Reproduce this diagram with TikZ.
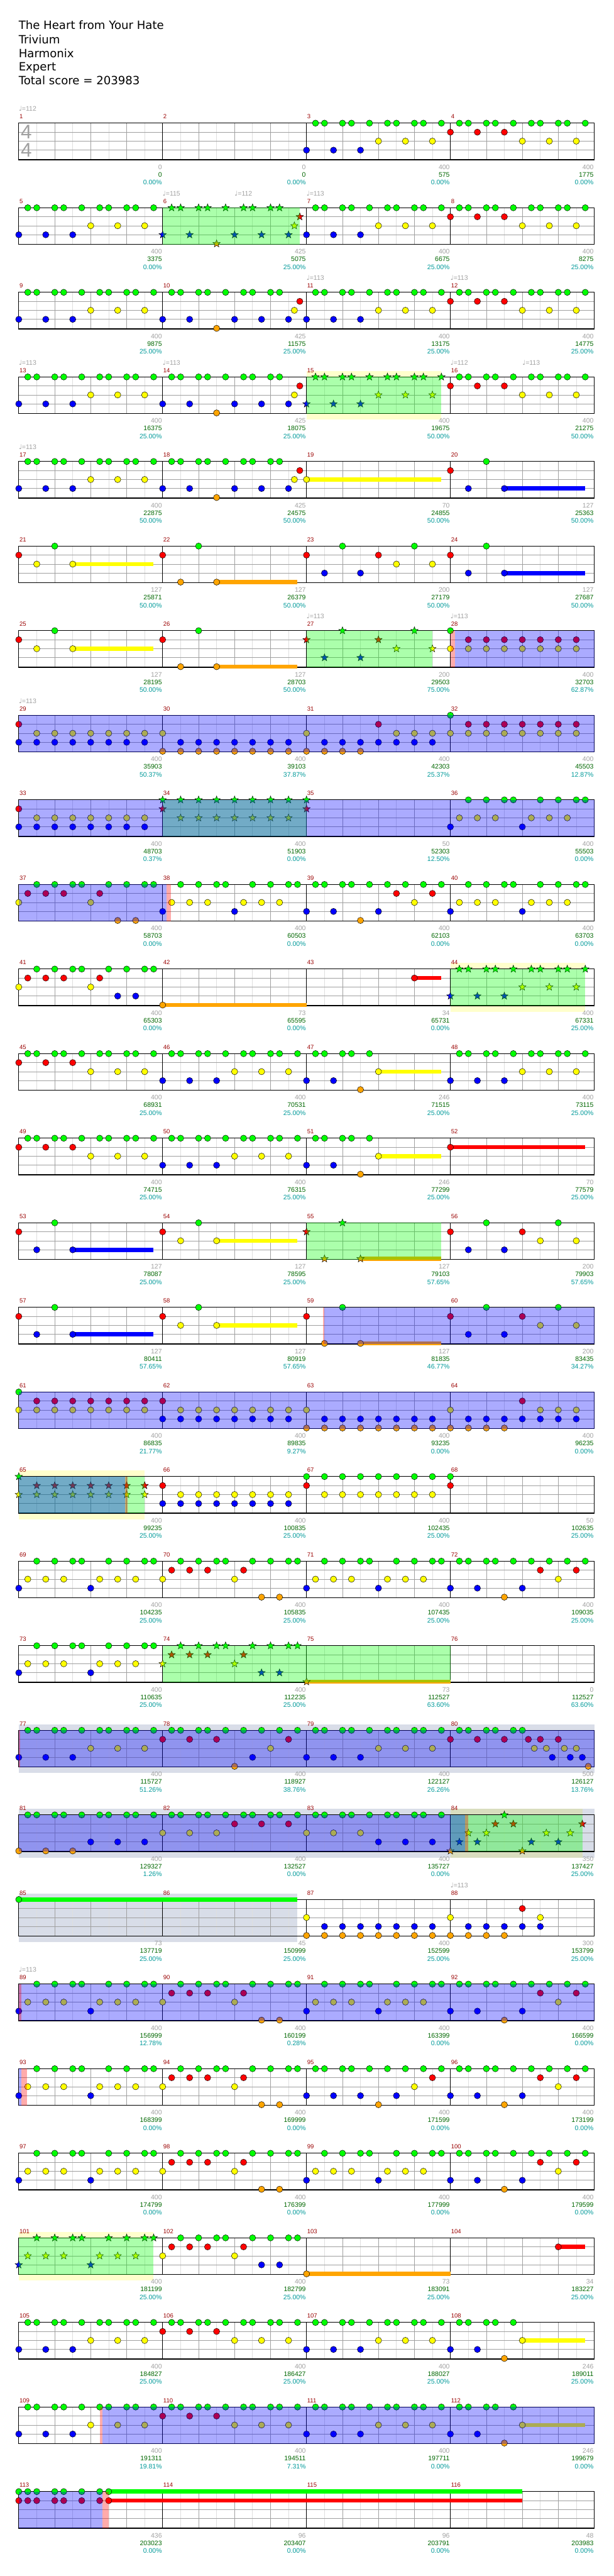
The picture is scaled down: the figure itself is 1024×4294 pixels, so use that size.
\documentclass[tikz,border=0pt]{standalone}
\usepackage{fontspec}
\setmainfont{DejaVu Sans}
\newfontfamily\lblfamily{Liberation Sans}
\usetikzlibrary{shapes.geometric}

\definecolor{lane0}{RGB}{  0,255,  0}
\definecolor{lane1}{RGB}{255,  0,  0}
\definecolor{lane2}{RGB}{255,255,  0}
\definecolor{lane3}{RGB}{  0,  0,255}
\definecolor{lane4}{RGB}{255,165,  0}
\definecolor{hiYellow}{RGB}{255,255,  0}
\definecolor{grBand}  {RGB}{ 64, 85,140}
\definecolor{lnGrey}  {RGB}{160,160,160}
\definecolor{lnGreyL} {RGB}{222,222,222}
\definecolor{numRed}  {RGB}{153,  0,  0}
\definecolor{scGreen} {RGB}{  0,102,  0}
\definecolor{pcTeal}  {RGB}{  0,153,153}

\newcommand\titlefont{\fontsize{19}{23}\selectfont}
\newcommand\lblfont{\lblfamily\fontsize{11}{13}\selectfont}
\newcommand\numfont{\lblfamily\fontsize{10}{12}\selectfont}
\newcommand\sigfont{\lblfamily\fontsize{33}{36}\selectfont}

% measure #1, position #2 (16ths) -> \mx, \mt (staff top)
\newcommand\setm[2]{%
  \pgfmathtruncatemacro\mrow{(#1-1)/4}%
  \pgfmathtruncatemacro\mcol{#1-1-4*\mrow}%
  \pgfmathsetmacro\mx{31.3+240*\mcol+15*(#2)}%
  \pgfmathsetmacro\mt{205.3+141*\mrow}}
\newcommand\nt[3]{%
  \foreach \p [count=\i] in {#3}{%
    \setm{#1}{\p}%
    \node[nkind,fill=lane#2] (m#1-#2-\i) at (\mx,\mt+15*#2) {};}}
\newcommand\sus[5]{%
  \setm{#2}{#3}\let\sxa\mx\let\st\mt
  \setm{#4}{#5}%
  \fill[lane#1] (\sxa,\st+15*#1-3.5) rectangle (\mx,\st+15*#1+3.5);}
\newcommand\zone[5]{%
  \setm{#2}{#3}\let\zxa\mx\let\zt\mt
  \setm{#4}{#5}%
  \fill[#1] (\zxa,\zt) rectangle (\mx,\zt+61);}
\newcommand\band[5]{%
  \setm{#2}{#3}\let\zxa\mx\let\zt\mt
  \setm{#4}{#5}%
  \fill[#1] (\zxa,\zt-10) rectangle (\mx,\zt+71);}

\newcommand\gallop[3]{\nt{#1}{#2}{0,3,6}\nt{#1}{#3}{8,11,14}\nt{#1}{0}{1,2,4,5,7,9,10,12,13,15}}
\newcommand\fillC[1]{\nt{#1}{0}{1,2,4,5,7,9,10,12,13}\nt{#1}{3}{0,3,8,11,14}\nt{#1}{4}{6}\nt{#1}{2}{14.65}\nt{#1}{1}{15.25}}
\newcommand\riffP[1]{\nt{#1}{3}{0,8}\nt{#1}{2}{1,3,5,9,11,13}\nt{#1}{0}{2,4,6,7,10,12,14,15}}
\newcommand\riffQ[2]{\nt{#1}{2}{0,8}\nt{#1}{1}{1,3,5,9}\nt{#1}{0}{2,4,6,7,10,12,14,15}\nt{#1}{#2}{11,13}}
\newcommand\riffR[1]{\nt{#1}{3}{0,3,8}\nt{#1}{0}{1,2,4,5,7,9,11,13,15}\nt{#1}{4}{6}\nt{#1}{1}{10,14}\nt{#1}{2}{12}}
\newcommand\riffT[2]{\nt{#1}{#2}{0,3,6}\nt{#1}{0}{1,2,4,5,7,9,11,13,15}\nt{#1}{4}{8}\nt{#1}{3}{10}\nt{#1}{2}{12}\nt{#1}{1}{14}}
\newcommand\gallopS[1]{\nt{#1}{3}{0,3}\nt{#1}{0}{1,2,4,5,7}\nt{#1}{4}{6}\sus{2}{#1}{8}{#1}{15}\nt{#1}{2}{8}}
\newcommand\hitS[2]{\nt{#1}{1}{0}\nt{#1}{#2}{2}\nt{#1}{0}{4}\sus{#2}{#1}{6}{#1}{15}\nt{#1}{#2}{6}}
\newcommand\stopB[1]{\nt{#1}{1}{0,8}\nt{#1}{3}{2,6}\nt{#1}{0}{4,12}\nt{#1}{2}{10,14}}
\newcommand\chugA[1]{\nt{#1}{1}{0}\nt{#1}{3}{0,2,...,14}\nt{#1}{2}{2,4,...,14}}
\newcommand\chugB[1]{\nt{#1}{2}{0}\nt{#1}{4}{0,2,...,14}\nt{#1}{3}{2,4,...,14}}
\newcommand\chugC[1]{\nt{#1}{2}{0,10,12,14}\nt{#1}{4}{0,2,4,6}\nt{#1}{3}{2,4,...,14}\nt{#1}{1}{8}}
\newcommand\chugD[1]{\nt{#1}{0}{0}\nt{#1}{2}{0,2,...,14}\nt{#1}{1}{2,4,...,14}}
\newcommand\chugE[1]{\nt{#1}{0}{0,2,...,14}\nt{#1}{1}{0}\nt{#1}{2}{2,4,...,14}}

\begin{document}
\begin{tikzpicture}[x=1pt,y=-1pt,
  nball/.style={circle,draw=black,line width=0.5pt,minimum size=10.5pt,inner sep=0pt},
  nstar/.style={star,star points=5,star point ratio=2.4,draw=black,line width=0.5pt,
                minimum size=13pt,inner sep=0pt},
  nkind/.style={nball},
  laneline/.style={draw=lnGrey,line width=0.8pt},
  beatline/.style={draw=lnGrey,line width=0.8pt},
  halfline/.style={draw=lnGreyL,line width=0.8pt},
  barline/.style={draw=black,line width=0.8pt},
  staffbox/.style={draw=black,line width=1.2pt},
  spzone/.style={fill=lane0,fill opacity=0.33},
  odzone/.style={fill=lane3,fill opacity=0.33},
  pinkzone/.style={fill=lane1,fill opacity=0.33},
  yband/.style={fill=hiYellow,fill opacity=0.2},
  gband/.style={fill=grBand,fill opacity=0.2},
  title/.style={anchor=base west,inner sep=0pt,font=\titlefont},
  mnum/.style={anchor=base west,inner sep=0pt,font=\numfont,text=numRed},
  tempo/.style={anchor=base west,inner sep=0pt,font=\lblfont,text=lnGrey},
  grylbl/.style={anchor=base east,inner sep=0pt,font=\lblfont,text=lnGrey},
  scrlbl/.style={anchor=base east,inner sep=0pt,font=\lblfont,text=scGreen},
  pctlbl/.style={anchor=base east,inner sep=0pt,font=\lblfont,text=pcTeal},
  tsig/.style={inner sep=0pt,font=\sigfont,text=lnGrey}
]
\useasboundingbox (0,0) rectangle (1024,4294);

% header
\node[title] (song)  at (31,49)    {The Heart from Your Hate};
\node[title] (band)  at (31,72.5)  {Trivium};
\node[title] (chart) at (31,95.5)  {Harmonix};
\node[title] (level) at (31,118)   {Expert};
\node[title] (total) at (31,140.6) {Total score = 203983};

% bands and staffs
\foreach \ma/\pa/\mb/\pb in {15/0/15/15,44/0/44/15,65/0/65/14,84/0/84/14.67,101/0/101/15}
  \band{yband}{\ma}{\pa}{\mb}{\pb};
\foreach \r in {0,...,28}{
  \pgfmathsetmacro\T{205.3+141*\r}
  \fill[white] (31.3,\T) rectangle (991.3,\T+61);
}
\foreach \ma/\pa/\mb/\pb in {77/0/80/16,81/0/84/16,85/0/86/15}
  \band{gband}{\ma}{\pa}{\mb}{\pb};
\foreach \r in {0,...,28}{
  \pgfmathsetmacro\T{205.3+141*\r}
  \foreach \i in {0,...,15} \draw[halfline] (61.3+60*\i,\T) -- ++(0,61);
  \foreach \i in {1,...,15} \draw[beatline] (31.3+60*\i,\T) -- ++(0,61);
  \foreach \y in {15,30,45} \draw[laneline] (31.3,\T+\y) -- (991.3,\T+\y);
  \foreach \i in {1,2,3} \draw[barline] (31.3+240*\i,\T) -- ++(0,61);
  \draw[staffbox] (31.3,\T) rectangle (991.3,\T+61);
}
\node[tsig] (sigTop) at (44,220.3) {4};
\node[tsig] (sigBot) at (44,250.3) {4};

% notes
\gallop{3}{3}{2}\gallop{4}{1}{2}
\gallop{5}{3}{2}
\begin{scope}[nkind/.style={nstar}]\fillC{6}\end{scope}
\gallop{7}{3}{2}\gallop{8}{1}{2}
\gallop{9}{3}{2}\fillC{10}\gallop{11}{3}{2}\gallop{12}{1}{2}
\gallop{13}{3}{2}\fillC{14}
\begin{scope}[nkind/.style={nstar}]\gallop{15}{3}{2}\end{scope}
\gallop{16}{1}{2}
\gallop{17}{3}{2}\fillC{18}\sus{2}{19}{0}{19}{15}\nt{19}{2}{0}\hitS{20}{3}
\hitS{21}{2}\hitS{22}{4}\stopB{23}\hitS{24}{3}
\hitS{25}{2}\hitS{26}{4}
\begin{scope}[nkind/.style={nstar}]\stopB{27}\end{scope}
\chugD{28}
\chugA{29}\chugB{30}\chugC{31}\chugD{32}
\chugA{33}
\begin{scope}[nkind/.style={nstar}]\chugE{34}\nt{35}{0}{0}\nt{35}{1}{0}\end{scope}
\riffP{36}
\riffQ{37}{4}\riffP{38}\riffR{39}\riffP{40}
\riffQ{41}{3}\sus{4}{42}{0}{42}{16}\nt{42}{4}{0}\sus{1}{43}{12}{43}{15}\nt{43}{1}{12}
\begin{scope}[nkind/.style={nstar}]\gallop{44}{3}{2}\end{scope}
\gallop{45}{1}{2}\gallop{46}{3}{2}\gallopS{47}\gallop{48}{3}{2}
\gallop{49}{1}{2}\gallop{50}{3}{2}\gallopS{51}\sus{1}{52}{0}{52}{15}\nt{52}{1}{0}
\hitS{53}{3}\hitS{54}{2}
\begin{scope}[nkind/.style={nstar}]\hitS{55}{4}\end{scope}
\stopB{56}
\hitS{57}{3}\hitS{58}{2}\hitS{59}{4}\stopB{60}
\chugD{61}\chugA{62}\chugB{63}\chugC{64}
\begin{scope}[nkind/.style={nstar}]\chugD{65}\end{scope}
\chugA{66}\chugE{67}\nt{68}{0}{0}\nt{68}{1}{0}
\riffP{69}\riffQ{70}{4}\riffP{71}\riffR{72}
\riffP{73}
\begin{scope}[nkind/.style={nstar}]\riffQ{74}{3}\sus{4}{75}{0}{75}{16}\nt{75}{4}{0}\end{scope}
\gallop{77}{3}{2}\riffT{78}{1}\gallop{79}{3}{2}
\nt{80}{1}{0,3,6,8.67,10,12}\nt{80}{0}{1,2,4,5,7,8}\nt{80}{2}{9.33,10.67,12.67,14}
\nt{80}{3}{11.33,13.33,14.67}\nt{80}{4}{15.33}
\gallop{81}{4}{3}\gallop{82}{2}{1}\gallop{83}{2}{3}
\begin{scope}[nkind/.style={nstar}]
\nt{84}{4}{0,8}\nt{84}{3}{1,3,9,12}\nt{84}{2}{2,4,10.67,13.33}\nt{84}{1}{5,7,14.67}\nt{84}{0}{6}
\end{scope}
\sus{0}{85}{0}{86}{15}\nt{85}{0}{0}
\chugB{87}
\nt{88}{2}{0,10}\nt{88}{4}{0,2,4,6}\nt{88}{3}{2,4,...,10}\nt{88}{1}{8}
\riffP{89}\riffQ{90}{4}\riffP{91}\riffR{92}
\riffP{93}\riffQ{94}{4}\riffT{95}{3}\riffR{96}
\riffP{97}\riffQ{98}{4}\riffP{99}\riffR{100}
\begin{scope}[nkind/.style={nstar}]\riffP{101}\end{scope}
\riffQ{102}{3}\sus{4}{103}{0}{103}{16}\nt{103}{4}{0}\sus{1}{104}{12}{104}{15}\nt{104}{1}{12}
\gallop{105}{3}{2}\gallop{106}{1}{2}\gallop{107}{3}{2}\gallopS{108}
\gallop{109}{3}{2}\gallop{110}{1}{2}\gallop{111}{3}{2}\gallopS{112}
\sus{0}{113}{10}{116}{8}\sus{1}{113}{10}{116}{8}
\nt{113}{0}{0,1,2,4,5,7,9,10}\nt{113}{1}{0,1,2,4,5,7,9,10}

% star power, overdrive
\foreach \ma/\pa/\mb/\pb in {6/0/6/15.25,15/0/15/15,27/0/27/14,34/0/34/16,44/0/44/15,
    55/0/55/15,65/0/65/14,74/0/75/16,84/0/84/14.67,101/0/101/15}
  \zone{spzone}{\ma}{\pa}{\mb}{\pb};
\foreach \ma/\pa/\mb/\pb in {28/0.48/28/16,29/0/32/16,33/0/36/16,37/0/38/0.41,59/2/60/16,
    61/0/64/16,65/0/65/11.85,77/0/80/16,81/0/84/1.6,89/0/92/16,93/0/93/0.3,
    109/9.3/112/16,113/0/113/9.3}
  \zone{odzone}{\ma}{\pa}{\mb}{\pb};
\foreach \ma/\pa/\mb/\pb in {28/0/28/0.48,38/0.41/38/0.94,59/1.85/59/2,65/11.85/65/12.1,
    77/0/77/0.12,84/1.6/84/2,89/0/89/0.3,93/0.3/93/0.92,109/9/109/9.3,113/9.3/113/10}
  \zone{pinkzone}{\ma}{\pa}{\mb}{\pb};

% measure numbers, tempos, scores
\foreach \m in {1,...,116}{
  \setm{\m}{0}
  \node[mnum] (n\m) at (\mx+1,\mt-7.2) {\m};
}
\foreach \m/\p/\t [count=\k] in {1/0/112,6/0/115,6/8/112,7/0/113,11/0/113,12/0/113,
    13/0/113,14/0/113,16/0/112,16/8/113,17/0/113,27/0/113,28/0/113,29/0/113,
    88/0/113,89/0/113}{
  \setm{\m}{\p}
  \node[tempo] (t\k) at (\mx,\mt-20) {{\fontspec{DejaVu Sans}♩}=\t};
}
\foreach \m/\a/\b/\c in {
    1/0/0/0.00,2/0/0/0.00,3/400/575/0.00,4/400/1775/0.00,
    5/400/3375/0.00,6/425/5075/25.00,7/400/6675/25.00,8/400/8275/25.00,
    9/400/9875/25.00,10/425/11575/25.00,11/400/13175/25.00,12/400/14775/25.00,
    13/400/16375/25.00,14/425/18075/25.00,15/400/19675/50.00,16/400/21275/50.00,
    17/400/22875/50.00,18/425/24575/50.00,19/70/24855/50.00,20/127/25363/50.00,
    21/127/25871/50.00,22/127/26379/50.00,23/200/27179/50.00,24/127/27687/50.00,
    25/127/28195/50.00,26/127/28703/50.00,27/200/29503/75.00,28/400/32703/62.87,
    29/400/35903/50.37,30/400/39103/37.87,31/400/42303/25.37,32/400/45503/12.87,
    33/400/48703/0.37,34/400/51903/0.00,35/50/52303/12.50,36/400/55503/0.00,
    37/400/58703/0.00,38/400/60503/0.00,39/400/62103/0.00,40/400/63703/0.00,
    41/400/65303/0.00,42/73/65595/0.00,43/34/65731/0.00,44/400/67331/25.00,
    45/400/68931/25.00,46/400/70531/25.00,47/246/71515/25.00,48/400/73115/25.00,
    49/400/74715/25.00,50/400/76315/25.00,51/246/77299/25.00,52/70/77579/25.00,
    53/127/78087/25.00,54/127/78595/25.00,55/127/79103/57.65,56/200/79903/57.65,
    57/127/80411/57.65,58/127/80919/57.65,59/127/81835/46.77,60/200/83435/34.27,
    61/400/86835/21.77,62/400/89835/9.27,63/400/93235/0.00,64/400/96235/0.00,
    65/400/99235/25.00,66/400/100835/25.00,67/400/102435/25.00,68/50/102635/25.00,
    69/400/104235/25.00,70/400/105835/25.00,71/400/107435/25.00,72/400/109035/25.00,
    73/400/110635/25.00,74/400/112235/25.00,75/73/112527/63.60,76/0/112527/63.60,
    77/400/115727/51.26,78/400/118927/38.76,79/400/122127/26.26,80/500/126127/13.76,
    81/400/129327/1.26,82/400/132527/0.00,83/400/135727/0.00,84/350/137427/25.00,
    85/73/137719/25.00,86/45/150999/25.00,87/400/152599/25.00,88/300/153799/25.00,
    89/400/156999/12.78,90/400/160199/0.28,91/400/163399/0.00,92/400/166599/0.00,
    93/400/168399/0.00,94/400/169999/0.00,95/400/171599/0.00,96/400/173199/0.00,
    97/400/174799/0.00,98/400/176399/0.00,99/400/177999/0.00,100/400/179599/0.00,
    101/400/181199/25.00,102/400/182799/25.00,103/73/183091/25.00,104/34/183227/25.00,
    105/400/184827/25.00,106/400/186427/25.00,107/400/188027/25.00,108/246/189011/25.00,
    109/400/191311/19.81,110/400/194511/7.31,111/400/197711/0.00,112/246/199679/0.00,
    113/436/203023/0.00,114/96/203407/0.00,115/96/203791/0.00,116/48/203983/0.00}{
  \setm{\m}{16}
  \node[grylbl] (g\m) at (\mx-1,\mt+77)    {\a};
  \node[scrlbl] (s\m) at (\mx-1,\mt+89.5)  {\b};
  \node[pctlbl] (p\m) at (\mx-1,\mt+102.5) {\c\%};
}
\end{tikzpicture}
\end{document}
